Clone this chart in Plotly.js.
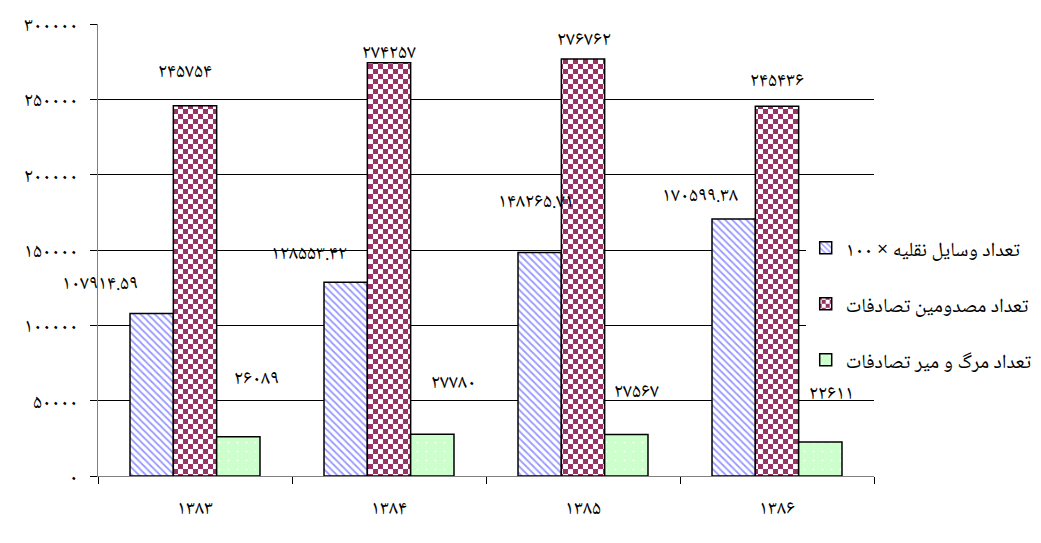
<!DOCTYPE html>
<html><head><meta charset="utf-8">
<script src="https://cdn.plot.ly/plotly-3.0.1.min.js"></script>
<style>html,body{margin:0;padding:0;background:#fff}#chart{width:1041px;height:543px}</style>
</head><body><div id="chart"></div>
<script>
// ---- data ----
const years = ['۱۳۸۳', '۱۳۸۴', '۱۳۸۵', '۱۳۸۶'];
const seriesNames = ['تعداد وسایل نقلیه × ۱۰۰', 'تعداد مصدومین تصادفات', 'تعداد مرگ و میر تصادفات'];
const vehicles = [107914.59, 128553.42, 148265.71, 170599.38];
const injured = [245754, 274257, 276762, 245436];
const deaths = [26089, 27780, 27567, 22611];
const yTickVals = [0, 50000, 100000, 150000, 200000, 250000, 300000];

function fa(n) { return String(n).replace(/[0-9]/g, d => '۰۱۲۳۴۵۶۷۸۹'[+d]); }

const FONT = "'Noto Naskh Arabic', 'Times New Roman', 'Liberation Serif', 'DejaVu Serif', serif";
const seriesValues = [vehicles, injured, deaths];

const patterns = [
  {shape: '\\', bgcolor: '#ffffff', fgcolor: '#9999ff', size: 5, solidity: 0.35},
  {shape: '+', bgcolor: '#ffffff', fgcolor: '#993366', size: 10, solidity: 0.5},
  {shape: '.', bgcolor: '#ccffcc', fgcolor: '#ffffff', size: 9, solidity: 0.04}
];

const traces = seriesValues.map((vals, i) => ({
  type: 'bar', x: years, y: vals, name: seriesNames[i],
  legendgroup: 'g' + i,
  marker: {color: patterns[i].bgcolor, pattern: patterns[i], line: {color: '#000', width: 1.5}},
  hoverinfo: 'skip'
}));

// label offsets (pixels) relative to category center / bar top
const labelShift = [
  [[-95, 28], [-80, 27], [-47, 50], [-77, 22]],
  [[-10, 33], [0, 9], [1, 18], [0, 24]],
  [[61, 57], [64, 50], [53, 41], [54, 47]]
];

const annotations = [];
seriesValues.forEach((vals, s) => {
  vals.forEach((v, k) => {
    annotations.push({
      x: years[k], y: v, xref: 'x', yref: 'y', text: fa(v), showarrow: false,
      xshift: labelShift[s][k][0], yshift: labelShift[s][k][1],
      font: {family: FONT, size: 20, color: '#000'}
    });
  });
});

const layout = {
  width: 1041, height: 543,
  margin: {l: 98, r: 167, t: 24, b: 67, autoexpand: false},
  paper_bgcolor: '#fff', plot_bgcolor: '#fff',
  font: {family: FONT, size: 20, color: '#000'},
  barmode: 'group', bargap: 0.33, bargroupgap: 0,
  showlegend: true,
  legend: {x: 0.912, xanchor: 'left', y: 0.548, yanchor: 'top', bgcolor: '#fff',
           font: {family: FONT, size: 20, color: '#000'}, tracegroupgap: 27, traceorder: 'grouped'},
  xaxis: {type: 'category', range: [-0.5, 3.5], showline: true, linecolor: '#808080', linewidth: 1,
          ticks: 'outside', tickson: 'boundaries', ticklen: 7, tickcolor: '#000', ticklabelstandoff: 13,
          showgrid: false, tickfont: {family: FONT, size: 20}},
  yaxis: {range: [0, 300000], tickvals: yTickVals, ticktext: yTickVals.map(fa), showline: true,
          linecolor: '#808080', linewidth: 1, ticks: 'outside', ticklen: 7, tickcolor: '#000',
          showgrid: true, gridcolor: '#000', gridwidth: 1, zeroline: false, ticklabelstandoff: 8,
          tickfont: {family: FONT, size: 20}},
  annotations: annotations
};

Plotly.newPlot('chart', traces, layout, {staticPlot: true}).then(gd => {
  gd.querySelectorAll('pattern').forEach(p => {
    const h = p.innerHTML.toLowerCase();
    if (h.includes('153, 51, 102') || h.includes('#993366')) {
      p.setAttribute('width', 10); p.setAttribute('height', 10);
      p.innerHTML = '<rect width="10" height="10" fill="#ffffff"/><rect width="5" height="5" fill="#993366"/><rect x="5" y="5" width="5" height="5" fill="#993366"/>';
    }
  });
});
</script>
</body></html>
